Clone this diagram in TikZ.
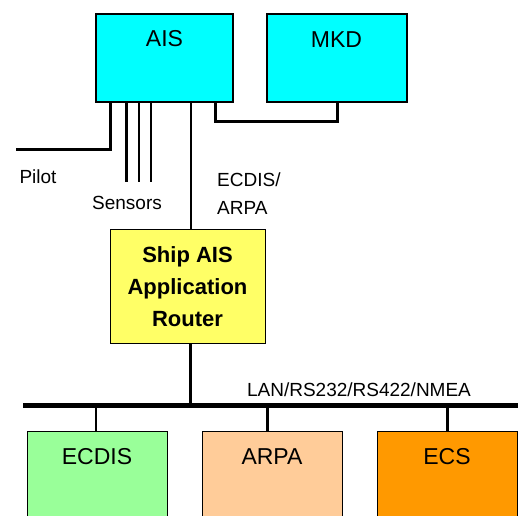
\documentclass[tikz,border=0pt]{standalone}
\usepackage{fontspec}
\setmainfont{Liberation Sans}
\begin{document}
\begin{tikzpicture}[x=1pt,y=-1pt,
  unitbox/.style={draw=black,line width=2pt,fill=aiscyan,minimum width=137pt,minimum height=88pt,inner sep=0pt},
  appbox/.style={draw=black,line width=1pt,minimum width=140pt,minimum height=120pt,inner sep=0pt},
  biglabel/.style={font=\fontsize{23}{26}\selectfont},
  smalllabel/.style={font=\fontsize{19}{22}\selectfont},
  thickline/.style={line width=3pt},
  thinline/.style={line width=2pt}]
\definecolor{aiscyan}{HTML}{00FFFF}
\definecolor{routeryellow}{HTML}{FFFF66}
\definecolor{ecdisgreen}{HTML}{99FF99}
\definecolor{arpapeach}{HTML}{FFCC99}
\definecolor{ecsorange}{HTML}{FF9900}
\useasboundingbox (0,0) rectangle (520,516);
\clip (0,0) rectangle (520,516);

% top units
\node[unitbox,label={[biglabel,anchor=center,yshift=-26pt]north:AIS}] (ais) at (164.5,58) {};
\node[unitbox,minimum width=140pt,label={[biglabel,anchor=center,yshift=-26pt]north:MKD}] (mkd) at (336.5,58.5) {};

% router
\node[draw=black,line width=1pt,fill=routeryellow,minimum width=155pt,minimum height=113pt,
      align=center,font=\bfseries\fontsize{22}{32}\selectfont] (router) at (187.5,286.5)
      {Ship AIS\\Application\\Router};

% bottom applications
\node[appbox,fill=ecdisgreen,label={[biglabel,anchor=center,yshift=-26pt]north:ECDIS}] (ecdis) at (97,491) {};
\node[appbox,fill=arpapeach,label={[biglabel,anchor=center,yshift=-26pt]north:ARPA}] (arpa) at (272,491) {};
\node[appbox,fill=ecsorange,label={[biglabel,anchor=center,yshift=-26pt]north:ECS}] (ecs) at (447,491) {};

% coordinates
\coordinate (pilotend) at (16,150);
\coordinate (s1) at (126,182);
\coordinate (s2) at (138.5,182);
\coordinate (s3) at (151,182);
\coordinate (busL) at (23,405);
\coordinate (busR) at (518,405);
\coordinate (busR0) at (190,405);

% pilot
\draw[thickline] (pilotend) -| (ais.south -| 110,0);
% sensors
\draw[thickline] (ais.south -| s1) -- (s1);
\draw[thinline] (ais.south -| s2) -- (s2);
\draw[thinline] (ais.south -| s3) -- (s3);
% ECDIS/ARPA link
\draw[line width=1.6pt] (ais.south -| 191,0) -- (router.north -| 191,0);
% MKD link
\draw[thickline] (ais.south -| 215,0) -- (215,122) -- (337,122) -- (mkd.south -| 337,0);
% router to bus
\draw[thickline] (router.south -| busR0) -- (busR0);
% bus
\draw[line width=5pt] (busL) -- (busR);
% drops
\draw[thinline] (busL -| 96,0) -- (ecdis.north -| 96,0);
\draw[thickline] (busL -| 267,0) -- (arpa.north -| 267,0);
\draw[thickline] (busL -| 447,0) -- (ecs.north -| 447,0);

% labels
\node[smalllabel] (pilot) at (38,177) {Pilot};
\node[smalllabel] (sensors) at (127,203) {Sensors};
\node[smalllabel,anchor=west,align=left,inner sep=0pt,font=\fontsize{19}{28}\selectfont] (ecdisarpa) at (217,194) {ECDIS/\\ARPA};
\node[smalllabel] (lan) at (359,390) {LAN/RS232/RS422/NMEA};
\end{tikzpicture}
\end{document}
